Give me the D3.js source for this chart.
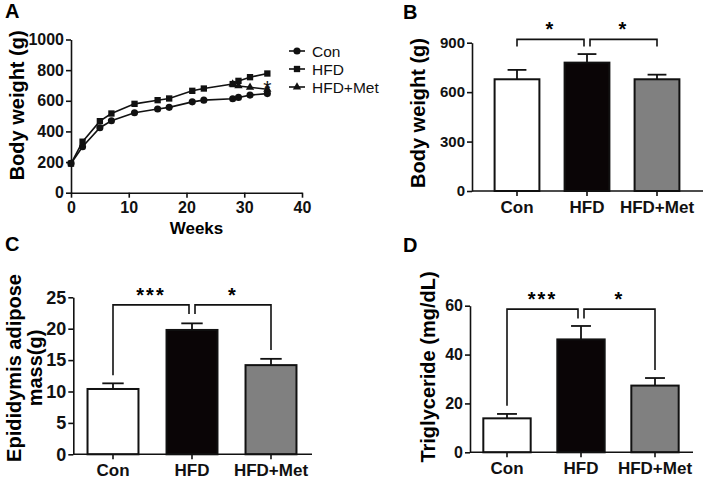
<!DOCTYPE html>
<html>
<head>
<meta charset="utf-8">
<script src="https://cdn.jsdelivr.net/npm/d3@7"></script>
<style>
  body { margin: 0; background: #fff; }
  text { font-family: "Liberation Sans", Arial, sans-serif; }
</style>
</head>
<body>
<div id="visContainer"></div>
<script>
// panel A: body weight over time
const weeks = [0, 2, 5, 7, 11, 15, 17, 21, 23, 28, 29, 31, 34];
const conWeight = [191, 300, 424, 470, 522, 546, 557, 593, 604, 613, 622, 637, 647];
const hfdWeight = [190, 333, 467, 517, 580, 604, 615, 665, 680, 709, 730, 754, 778];
const metWeeks = [28, 29, 31, 34];
const metWeight = [709, 697, 688, 675];
const weekTicks = [0, 10, 20, 30, 40];
const weightTicks = [0, 200, 400, 600, 800, 1000];

// bar panels
const groups = ["Con", "HFD", "HFD+Met"];
const bwMean = [678, 779, 678];
const bwErr = [57, 52, 28];
const bwTicks = [0, 300, 600, 900];
const fatMean = [10.4, 19.8, 14.2];
const fatErr = [0.9, 1.05, 1.0];
const fatTicks = [0, 5, 10, 15, 20, 25];
const tgMean = [13.9, 46.2, 27.3];
const tgErr = [1.8, 5.5, 3.1];
const tgTicks = [0, 20, 40, 60];

const fills = ["#ffffff", "#0a0506", "#808080"];

const width = 706, height = 479;
const svg = d3.create("svg").attr("width", width).attr("height", height);
document.querySelector("#visContainer").append(svg.node());

function styleAxis(g, size) {
  g.selectAll("path, line").attr("stroke", "#111").attr("stroke-width", 1.6);
  g.selectAll("text").attr("font-size", size).attr("font-weight", "bold").attr("fill", "#111")
    .attr("font-family", "'Liberation Sans', Arial, sans-serif");
}

function panelLetter(t, x, y) {
  svg.append("text").attr("x", x).attr("y", y).text(t)
    .attr("font-size", 20).attr("font-weight", "bold");
}

// ---------- A ----------
const xA = d3.scaleLinear().domain([0, 40]).range([71, 302]);
const yA = d3.scaleLinear().domain([0, 1000]).range([192.7, 39.5]);

svg.append("g").attr("transform", "translate(0,192.7)")
  .call(d3.axisBottom(xA).tickValues(weekTicks).tickSize(5).tickSizeOuter(0).tickPadding(4))
  .call(styleAxis, 16);
svg.append("g").attr("transform", "translate(71,0)")
  .call(d3.axisLeft(yA).tickValues(weightTicks).tickFormat(d3.format("d")).tickSize(5).tickSizeOuter(0).tickPadding(2))
  .call(styleAxis, 16);

const lineA = d3.line().x(d => xA(d[0])).y(d => yA(d[1]));
const seriesA = [
  { name: "Con", pts: d3.zip(weeks, conWeight), sym: d3.symbolCircle, size: 40 },
  { name: "HFD", pts: d3.zip(weeks, hfdWeight), sym: d3.symbolSquare, size: 40 },
  { name: "HFD+Met", pts: d3.zip(metWeeks, metWeight), sym: d3.symbolTriangle, size: 30 }
];
seriesA.forEach((s, i) => {
  svg.append("path").datum(s.pts).attr("d", lineA)
    .attr("fill", "none").attr("stroke", "#111").attr("stroke-width", 1.6);
  svg.append("g").selectAll("path").data(s.pts).join("path")
    .attr("transform", d => `translate(${xA(d[0])},${yA(d[1])})`)
    .attr("d", d3.symbol().type(s.sym).size(s.size)).attr("fill", "#111");
  // legend
  const ly = 51 + i * 18;
  svg.append("line").attr("x1", 289).attr("x2", 305).attr("y1", ly).attr("y2", ly)
    .attr("stroke", "#111").attr("stroke-width", 1.6);
  svg.append("path").attr("transform", `translate(297,${ly})`)
    .attr("d", d3.symbol().type(s.sym).size(s.size)).attr("fill", "#111");
  svg.append("text").attr("x", 312).attr("y", ly + 5.5).text(s.name)
    .attr("font-size", 15.5).attr("fill", "#111");
});
svg.append("text").attr("x", xA(34)).attr("y", yA(640)).attr("text-anchor", "middle")
  .text("*").attr("font-size", 21).attr("fill", "#111");

svg.append("text").attr("transform", `translate(24,${yA(570)}) rotate(-90)`)
  .attr("text-anchor", "middle").text("Body weight (g)")
  .attr("font-size", 20).attr("font-weight", "bold");
svg.append("text").attr("x", (xA(0) + xA(40)) / 2 + 10).attr("y", 234)
  .attr("text-anchor", "middle").text("Weeks")
  .attr("font-size", 17).attr("font-weight", "bold");
panelLetter("A", 5, 18);

// ---------- bar panels ----------
function barPanel(o) {
  const x = d3.scaleBand().domain(groups).range(o.band).paddingInner(o.pad).paddingOuter(o.pad / 2);
  const y = d3.scaleLinear().domain(o.domain).range([o.y0, o.y1]);
  const bw = x.bandwidth();

  svg.append("g").selectAll("rect").data(o.mean).join("rect")
    .attr("x", (d, i) => x(groups[i])).attr("width", bw)
    .attr("y", d => y(d)).attr("height", d => o.y0 - y(d))
    .attr("fill", (d, i) => fills[i]).attr("stroke", "#111").attr("stroke-width", 2);

  const capW = bw * 0.42;
  o.mean.forEach((d, i) => {
    const cx = x(groups[i]) + bw / 2;
    const top = y(d + o.err[i]);
    svg.append("line").attr("x1", cx).attr("x2", cx).attr("y1", y(d)).attr("y2", top)
      .attr("stroke", "#111").attr("stroke-width", 1.8);
    svg.append("line").attr("x1", cx - capW / 2).attr("x2", cx + capW / 2).attr("y1", top).attr("y2", top)
      .attr("stroke", "#111").attr("stroke-width", 1.8);
  });

  const gx = svg.append("g").attr("transform", `translate(0,${o.y0})`)
    .call(d3.axisBottom(x).tickSize(5).tickSizeOuter(0).tickPadding(5))
    .call(styleAxis, 17);
  gx.select(".domain").remove();
  svg.append("line").attr("x1", o.axisX).attr("x2", o.axisEnd).attr("y1", o.y0).attr("y2", o.y0)
    .attr("stroke", "#111").attr("stroke-width", 1.6);

  svg.append("g").attr("transform", `translate(${o.axisX},0)`)
    .call(d3.axisLeft(y).tickValues(o.ticks).tickSize(5).tickSizeOuter(0).tickPadding(2))
    .call(styleAxis, o.tickFont);

  // significance brackets
  o.brackets.forEach((b, k) => {
    const xa = x(groups[b.pair[0]]) + bw / 2 + (k === 1 ? 3 : 0);
    const xb = x(groups[b.pair[1]]) + bw / 2 - (k === 0 ? 3 : 0);
    svg.append("path")
      .attr("d", `M${xa},${y(b.ends[0])}V${y(b.level)}H${xb}V${y(b.ends[1])}`)
      .attr("fill", "none").attr("stroke", "#111").attr("stroke-width", 1.6);
    svg.append("text").attr("x", (xa + xb) / 2).attr("y", y(b.level) - 3)
      .attr("text-anchor", "middle").text(b.label)
      .attr("font-size", 20).attr("font-weight", "bold").attr("letter-spacing", 2);
  });

  o.title.forEach((t, j) => {
    svg.append("text").attr("transform", `translate(${o.titleX + j * 21},${o.titleY}) rotate(-90)`)
      .attr("text-anchor", "middle").text(t)
      .attr("font-size", 20).attr("font-weight", "bold");
  });
}

barPanel({
  band: [482, 692], pad: 0.36, domain: [0, 900], y0: 191, y1: 42.7, axisX: 472, axisEnd: 703,
  mean: bwMean, err: bwErr, ticks: bwTicks, tickFont: 15,
  brackets: [
    { pair: [0, 1], level: 920, ends: [877, 877], label: "*" },
    { pair: [1, 2], level: 920, ends: [877, 877], label: "*" }
  ],
  title: ["Body weight (g)"], titleX: 425, titleY: 113
});
panelLetter("B", 403, 19);

barPanel({
  band: [73.5, 310.5], pad: 0.355, domain: [0, 25], y0: 454.3, y1: 297.3, axisX: 73.3, axisEnd: 312,
  mean: fatMean, err: fatErr, ticks: fatTicks, tickFont: 18,
  brackets: [
    { pair: [0, 1], level: 23.8, ends: [12.6, 22.35], label: "***" },
    { pair: [1, 2], level: 23.8, ends: [22.35, 16.6], label: "*" }
  ],
  title: ["Epididymis adipose", "mass(g)"], titleX: 21, titleY: 368
});
panelLetter("C", 5, 251);

barPanel({
  band: [470, 692], pad: 0.36, domain: [0, 60], y0: 452.3, y1: 305.7, axisX: 470, axisEnd: 693,
  mean: tgMean, err: tgErr, ticks: tgTicks, tickFont: 16,
  brackets: [
    { pair: [0, 1], level: 58.6, ends: [19.1, 54.8], label: "***" },
    { pair: [1, 2], level: 58.6, ends: [54.8, 33.7], label: "*" }
  ],
  title: ["Triglyceride (mg/dL)"], titleX: 435, titleY: 367
});
panelLetter("D", 403, 252);
</script>
</body>
</html>
